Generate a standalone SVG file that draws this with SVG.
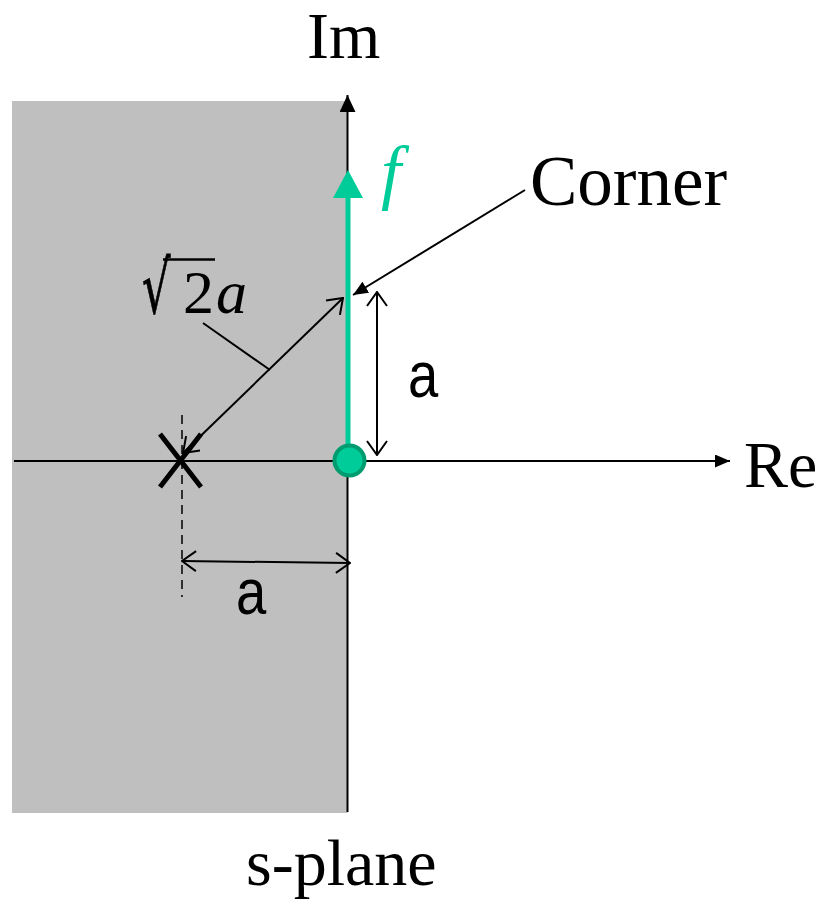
<svg xmlns="http://www.w3.org/2000/svg" width="830" height="905" viewBox="0 0 830 905">
  <style>
    .ln { stroke: #000; stroke-width: 2; fill: none; }
    .serif { font-family: "Liberation Serif", "Times New Roman", serif; fill: #000; }
    .sans { font-family: "Liberation Sans", Arial, sans-serif; fill: #000; }
  </style>
  <defs>
    <marker id="tri" markerUnits="userSpaceOnUse" markerWidth="18" markerHeight="16" refX="17" refY="8" orient="auto">
      <path d="M0,0 L17,8 L0,16 z" fill="#000"/>
    </marker>
    <marker id="triS" markerUnits="userSpaceOnUse" markerWidth="16" markerHeight="14" refX="15" refY="6.5" orient="auto">
      <path d="M0,0 L15,6.5 L0,13 z" fill="#000"/>
    </marker>
    <marker id="open" markerUnits="userSpaceOnUse" markerWidth="16" markerHeight="22" refX="15" refY="11" orient="auto-start-reverse">
      <path d="M1,1 L15,11 L1,21" fill="none" stroke="#000" stroke-width="2"/>
    </marker>
  </defs>

  <g id="half-plane">
    <rect x="12" y="101" width="335.5" height="712" fill="#BFBFBF"/>
  </g>

  <g id="connectors">
    <line class="ln" x1="347.5" y1="812" x2="347.5" y2="95" marker-end="url(#tri)"/>
    <line class="ln" x1="14" y1="461" x2="730" y2="461" marker-end="url(#triS)"/>
    <line class="ln" x1="525" y1="190" x2="353" y2="295" marker-end="url(#triS)"/>
    <line class="ln" x1="183" y1="453" x2="343" y2="298" marker-start="url(#open)" marker-end="url(#open)"/>
    <line class="ln" x1="203" y1="323" x2="270" y2="370"/>
    <line class="ln" x1="377" y1="292" x2="377" y2="455" marker-start="url(#open)" marker-end="url(#open)"/>
    <line class="ln" x1="182" y1="561" x2="350" y2="563" marker-start="url(#open)" marker-end="url(#open)"/>
    <line x1="182" y1="415" x2="182" y2="597" stroke="#000" stroke-width="1.5" stroke-dasharray="9 6"/>
  </g>

  <g id="frequency-axis">
    <line x1="348" y1="460" x2="348" y2="196" stroke="#00CC99" stroke-width="5"/>
    <polygon points="348,170 333,198 363,198" fill="#00CC99"/>
    <text x="381" y="196" font-size="72" font-style="italic" font-family="Liberation Serif, serif" fill="#00CC99">f</text>
  </g>

  <g id="zero">
    <circle cx="349.5" cy="460.5" r="15" fill="#00CC99" stroke="#009B6E" stroke-width="4"/>
  </g>

  <g id="pole">
    <line x1="160" y1="434" x2="201" y2="487" stroke="#000" stroke-width="5"/>
    <line x1="201" y1="434" x2="160" y2="487" stroke="#000" stroke-width="5"/>
  </g>

  <g id="labels">
    <text class="serif" x="307" y="58" font-size="66">Im</text>
    <text class="serif" x="744" y="487" font-size="66">Re</text>
    <text class="serif" x="530" y="205" font-size="71">Corner</text>
    <text class="serif" x="246" y="885" font-size="66">s-plane</text>
    <text class="sans" x="0" y="0" font-size="64" transform="translate(408,397) scale(0.85,1)">a</text>
    <text class="sans" x="0" y="0" font-size="64" transform="translate(236,614) scale(0.85,1)">a</text>
    <g id="sqrt2a">
      <text x="0" y="0" font-size="56" font-family="DejaVu Serif, serif" fill="#000" stroke="#000" stroke-width="0.6" transform="translate(142,313) scale(0.8,1.3)">√</text>
      <line x1="163" y1="259.5" x2="215" y2="259.5" stroke="#000" stroke-width="2.5"/>
      <text class="serif" x="183" y="313" font-size="62">2</text>
      <text class="serif" x="216" y="313" font-size="62" font-style="italic">a</text>
    </g>
  </g>
</svg>
